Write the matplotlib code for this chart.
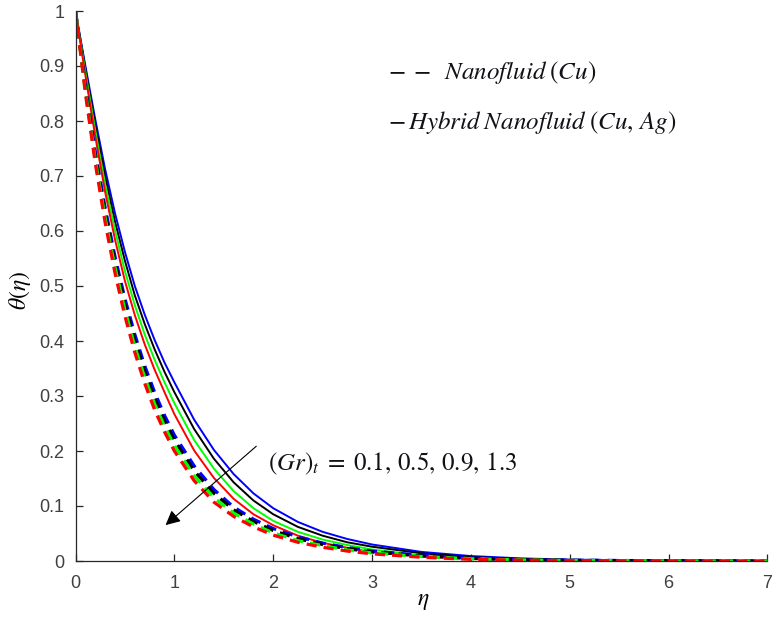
import numpy as np
import matplotlib
matplotlib.use("Agg")
import matplotlib.pyplot as plt

plt.rcParams['mathtext.fontset'] = 'stix'
plt.rcParams['font.family'] = ['Liberation Sans', 'DejaVu Sans']

# eta grid and temperature profiles
eta = [0, 0.1, 0.2, 0.3, 0.4, 0.5, 0.6, 0.7, 0.8, 0.9, 1.0, 1.2, 1.4, 1.6, 1.8,
       2.0, 2.25, 2.5, 2.75, 3.0, 3.5, 4.0, 4.5, 5.0, 6.0, 7.0]

gr_values = ['0.1', '0.5', '0.9', '1.3']
colors = ['#0000ff', '#000000', '#00ff00', '#ff0000']

# hybrid nanofluid (Cu, Ag) - solid
hybrid_01 = [1.0, 0.9, 0.803, 0.712, 0.632, 0.562, 0.500, 0.448, 0.402, 0.361, 0.325, 0.257, 0.202,
             0.158, 0.123, 0.096, 0.071, 0.053, 0.04, 0.03, 0.0165, 0.009, 0.0048, 0.0025, 0.0006, 0.0]
hybrid_05 = [1.0, 0.895, 0.793, 0.699, 0.617, 0.546, 0.483, 0.431, 0.385, 0.344, 0.307, 0.240, 0.186,
             0.143, 0.110, 0.085, 0.062, 0.046, 0.034, 0.026, 0.014, 0.0072, 0.0037, 0.002, 0.0004, 0.0]
hybrid_09 = [1.0, 0.889, 0.783, 0.685, 0.601, 0.527, 0.465, 0.412, 0.366, 0.325, 0.287, 0.220, 0.168,
             0.127, 0.096, 0.073, 0.053, 0.039, 0.029, 0.021, 0.010, 0.0052, 0.0025, 0.0015, 0.0002, 0.0]
hybrid_13 = [1.0, 0.883, 0.772, 0.671, 0.584, 0.509, 0.447, 0.394, 0.348, 0.307, 0.267, 0.201, 0.151,
             0.113, 0.085, 0.065, 0.046, 0.033, 0.024, 0.016, 0.008, 0.0038, 0.002, 0.0009, 0.0001, 0.0]

# nanofluid (Cu) - dashed
nano_01 = [1.0, 0.862, 0.744, 0.642, 0.553, 0.477, 0.412, 0.355, 0.307, 0.265, 0.229, 0.173, 0.13,
           0.098, 0.076, 0.059, 0.044, 0.0325, 0.0244, 0.018, 0.0104, 0.0055, 0.0026, 0.0014, 0.0004, 0.0]
nano_05 = [1.0, 0.859, 0.737, 0.633, 0.544, 0.467, 0.401, 0.345, 0.297, 0.255, 0.22, 0.164, 0.123,
           0.093, 0.072, 0.0555, 0.0406, 0.030, 0.0223, 0.0164, 0.0093, 0.0047, 0.0023, 0.0012, 0.0003, 0.0]
nano_09 = [1.0, 0.854, 0.73, 0.624, 0.534, 0.457, 0.39, 0.334, 0.286, 0.245, 0.21, 0.155, 0.115,
           0.087, 0.067, 0.051, 0.037, 0.028, 0.020, 0.0145, 0.0081, 0.0041, 0.0019, 0.001, 0.0002, 0.0]
nano_13 = [1.0, 0.85, 0.723, 0.615, 0.523, 0.445, 0.379, 0.323, 0.275, 0.235, 0.2, 0.146, 0.107,
           0.081, 0.062, 0.047, 0.034, 0.025, 0.018, 0.013, 0.0068, 0.003, 0.0015, 0.0008, 0.0002, 0.0]

hybrid = [hybrid_01, hybrid_05, hybrid_09, hybrid_13]
nano = [nano_01, nano_05, nano_09, nano_13]

fig = plt.figure(figsize=(7.84, 6.39), dpi=100)
ax = fig.add_axes([75.5 / 784, 78 / 639, 692 / 784, 550 / 639])

for y, c in zip(hybrid, colors):
    ax.plot(eta, y, color=c, lw=1.4)
for y, c in zip(nano, colors):
    line, = ax.plot(eta, y, color=c, lw=2.3)
    line.set_dashes([3.2, 2.2])

ax.set_xlim(0, 7)
ax.set_ylim(0, 1)
ax.set_xticks(range(8))
ax.set_yticks(np.arange(0, 1.01, 0.1))
ax.set_yticklabels(['0', '0.1', '0.2', '0.3', '0.4', '0.5', '0.6', '0.7', '0.8', '0.9', '1'])
for s in ['top', 'right']:
    ax.spines[s].set_visible(False)
for s in ['left', 'bottom']:
    ax.spines[s].set_color('#262626')
    ax.spines[s].set_linewidth(0.9)
ax.tick_params(direction='in', length=5, width=0.9, color='#262626',
               labelcolor='#404040', labelsize=13)
ax.tick_params(axis='x', pad=10)
ax.tick_params(axis='y', pad=8)

fig.text(423 / 784, 1 - 601 / 639, r'$\eta$', fontsize=17, ha='center', va='center')
fig.text(20 / 784, 1 - 290 / 639, r'$\theta(\eta)$', fontsize=17, rotation=90,
         ha='center', va='center')

# legend written as text, like the original
fig.text(388 / 784, 1 - 73 / 639, r'$-\;-\;\;Nanofluid\;(Cu)$', fontsize=18,
         va='center', color='#111118')
fig.text(388 / 784, 1 - 123 / 639, r'$-\,Hybrid\;Nanofluid\;(Cu,\,Ag)$', fontsize=18,
         va='center', color='#111118')

ax.text(1.95, 0.176, r'$(Gr)_t\;=\;0.1,\,0.5,\,0.9,\,1.3$', fontsize=18, va='center',
        color='#111118')
ax.annotate('', xy=(0.89, 0.062), xytext=(1.85, 0.212),
            arrowprops=dict(arrowstyle='-|>', color='k', lw=0.8, mutation_scale=22))

fig.savefig('out.png', dpi=100)
